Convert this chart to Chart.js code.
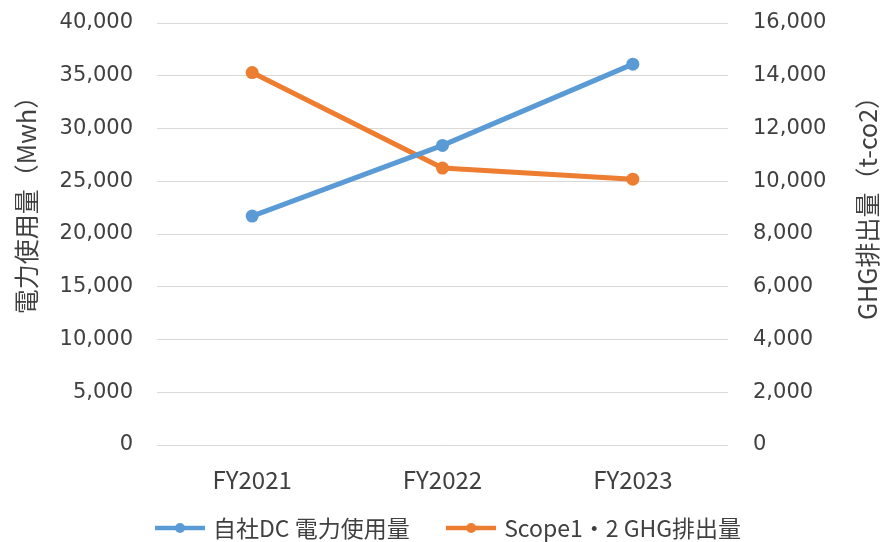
<!DOCTYPE html>
<html>
<head>
<meta charset="utf-8">
<script src="https://cdn.jsdelivr.net/npm/chart.js@4.4.1/dist/chart.umd.min.js"></script>
<style>
  html, body { margin: 0; padding: 0; background: #fff; }
  #wrap { width: 881px; height: 542px; position: relative; }
</style>
</head>
<body>
<div id="wrap"><canvas id="myChart"></canvas></div>
<script>
// data
const years = ['FY2021', 'FY2022', 'FY2023'];
const powerUse = [21700, 28400, 36100];      // 自社DC 電力使用量 (Mwh), left axis
const ghgEmission = [14120, 10500, 10080];   // Scope1・2 GHG排出量 (t-co2), right axis
const seriesNames = ['自社DC 電力使用量', 'Scope1・2 GHG排出量'];
const leftTitle = '電力使用量（Mwh）';
const rightTitle = 'GHG排出量（t-co2）';

const blue = '#5B9BD5';
const orange = '#ED7D31';
const textColor = '#404040';
const jpFont = '"Noto Sans CJK JP", "Noto Sans", sans-serif';
const numFont = '"DejaVu Sans", Verdana, sans-serif';

// little line + dot picture for the legend
function legendMark(color) {
  const c = document.createElement('canvas');
  c.width = 50;
  c.height = 14;
  const g = c.getContext('2d');
  g.strokeStyle = color;
  g.lineWidth = 4.5;
  g.beginPath();
  g.moveTo(0, 7);
  g.lineTo(50, 7);
  g.stroke();
  g.fillStyle = color;
  g.beginPath();
  g.arc(25, 7, 5, 0, Math.PI * 2);
  g.fill();
  return c;
}
const marks = [legendMark(blue), legendMark(orange)];

// keep the tick labels from pushing the plot down
function fixPadding(scale) {
  scale.paddingTop = 12;
  scale.paddingBottom = 12;
}

// both axis titles read bottom-to-top, so draw them here
const axisTitles = {
  id: 'axisTitles',
  beforeLayout(chart) {
    const legend = chart.legend;
    if (legend && !legend._patched) {
      const fit = legend.fit;
      legend.fit = function () {
        fit.call(this);
        this.height = 37;
      };
      legend._patched = true;
    }
  },
  afterLayout(chart) {
    // move the legend under the plot, the way the original sits
    const legend = chart.legend;
    const pad = legend.options.labels.padding;
    const size = legend.options.labels.font.size;
    legend.left = 158.5 - pad;
    legend.right = chart.width;
    legend.top = 528 - pad - size / 2;
    legend.bottom = chart.height;
  },
  afterDraw(chart) {
    const ctx = chart.ctx;
    ctx.save();
    ctx.fillStyle = textColor;
    ctx.font = '25px ' + jpFont;
    ctx.textAlign = 'center';
    ctx.textBaseline = 'middle';

    ctx.save();
    ctx.translate(26, 199);
    ctx.rotate(-Math.PI / 2);
    ctx.fillText(leftTitle, 0, 0);
    ctx.restore();

    ctx.save();
    ctx.translate(867, 202);
    ctx.rotate(-Math.PI / 2);
    ctx.fillText(rightTitle, 0, 0);
    ctx.restore();

    ctx.restore();
  }
};

function initChart() {
  const ctx = document.getElementById('myChart');

  new Chart(ctx, {
    type: 'line',
    data: {
      labels: years,
      datasets: [{
        label: seriesNames[0],
        data: powerUse,
        yAxisID: 'y',
        borderColor: blue,
        backgroundColor: blue,
        borderWidth: 5,
        pointRadius: 6.5,
        pointHoverRadius: 6.5,
        pointBorderWidth: 0,
        tension: 0
      }, {
        label: seriesNames[1],
        data: ghgEmission,
        yAxisID: 'y1',
        borderColor: orange,
        backgroundColor: orange,
        borderWidth: 5,
        pointRadius: 6.5,
        pointHoverRadius: 6.5,
        pointBorderWidth: 0,
        tension: 0
      }]
    },
    options: {
      responsive: true,
      maintainAspectRatio: false,
      animation: false,
      layout: { padding: { top: 23, left: 0, right: 0, bottom: 0 } },
      plugins: {
        tooltip: { enabled: false },
        legend: {
          position: 'bottom',
          align: 'start',
          labels: {
            usePointStyle: true,
            pointStyleWidth: 43,
            padding: 40,
            color: textColor,
            font: { family: jpFont, size: 23 },
            generateLabels(chart) {
              const items = Chart.defaults.plugins.legend.labels.generateLabels(chart);
              items.forEach((item, i) => { item.pointStyle = marks[i]; });
              return items;
            }
          }
        }
      },
      scales: {
        x: {
          offset: true,
          grid: { display: false, drawTicks: false },
          border: { display: false },
          ticks: {
            padding: 20,
            color: textColor,
            font: { family: jpFont, size: 24 }
          },
          afterFit(scale) { scale.height = 60; }
        },
        y: {
          position: 'left',
          min: 0,
          max: 40000,
          grid: { color: '#d9d9d9', lineWidth: 1, drawTicks: false },
          border: { display: false },
          ticks: {
            stepSize: 5000,
            padding: 24,
            color: textColor,
            font: { family: numFont, size: 21 },
            callback: (v) => v.toLocaleString('en-US')
          },
          afterFit(scale) {
            scale.width = 157;
            fixPadding(scale);
          }
        },
        y1: {
          position: 'right',
          min: 0,
          max: 16000,
          grid: { drawOnChartArea: false, drawTicks: false },
          border: { display: false },
          ticks: {
            stepSize: 2000,
            padding: 25,
            color: textColor,
            font: { family: numFont, size: 21 },
            callback: (v) => v.toLocaleString('en-US')
          },
          afterFit(scale) {
            scale.width = 153;
            fixPadding(scale);
          }
        }
      }
    },
    plugins: [axisTitles]
  });
}

document.addEventListener('DOMContentLoaded', () => initChart());
</script>
</body>
</html>
